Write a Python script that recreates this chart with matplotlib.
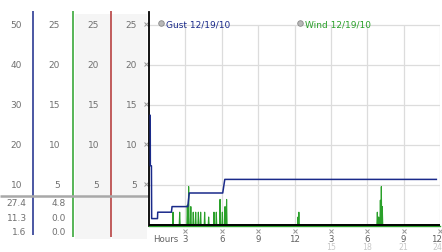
import matplotlib
matplotlib.use('Agg')
import matplotlib.pyplot as plt
from matplotlib.transforms import blended_transform_factory as blend
from matplotlib.lines import Line2D
from matplotlib.patches import Rectangle

# gust readings (mph, 0-50 scale)
gust_h = [0.10, 0.11, 0.20, 0.22, 0.70, 0.72, 1.85, 1.90, 3.20, 3.32, 6.08, 6.25, 23.7]
gust_v = [27.4, 14.8, 14.8, 1.6, 1.6, 3.2, 3.2, 4.6, 4.6, 8.0, 8.0, 11.4, 11.4]

# wind gusts above zero (mph, 0-25 scale)
wind_h = [1.98, 2.53, 3.16, 3.27, 3.45, 3.65, 3.85, 4.07, 4.26, 4.59, 4.92, 5.36, 5.55,
          5.86, 6.05, 6.27, 6.40, 12.29, 12.36, 18.83, 18.94, 19.08, 19.16, 19.24]
wind_v = [1.6, 1.6, 2.5, 4.8, 2.3, 1.6, 1.6, 1.6, 1.6, 1.6, 1.0, 1.6, 1.6,
          3.2, 1.6, 2.3, 3.2, 1.0, 1.6, 1.6, 1.0, 3.1, 4.8, 2.3]

gust_scale = [50, 40, 30, 20, 10]
wind_scale = [25, 20, 15, 10, 5]
gust_stats = ['27.4', '11.3', '1.6']
wind_stats = ['4.8', '0.0', '0.0']

hour_ticks = [3, 6, 9, 12, 15, 18, 21, 24]
hour_top = ['3', '6', '9', '12', '3', '6', '9', '12']
hour_bot = ['', '', '', '', '15', '18', '21', '24']

NAVY = '#1a2a8a'
GREEN = '#2aa02a'
RED = '#b03030'
GRAY = '#707070'
FS = 6.5

W, H = 442, 253
fig = plt.figure(figsize=(W / 100, H / 100), dpi=100)

# overlay in pixel coords for the left scale panel
ov = fig.add_axes([0, 0, 1, 1], zorder=0)
ov.set_xlim(0, W)
ov.set_ylim(H, 0)
ov.axis('off')

ax = fig.add_axes([149 / W, (H - 227) / H, 291 / W, 214 / H], zorder=2)
ax.set_xlim(0, 24)
ax.set_ylim(-0.125, 26.625)
ax2 = ax.twinx()
ax2.set_ylim(-0.25, 53.25)
for s in ax2.spines.values():
    s.set_visible(False)
ax2.set_yticks([])

for s in ['top', 'right']:
    ax.spines[s].set_visible(False)
ax.spines['left'].set_color('black')
ax.spines['left'].set_linewidth(1.3)
ax.spines['bottom'].set_color(GREEN)
ax.spines['bottom'].set_linewidth(1.0)
ax.set_xticks([])
ax.set_yticks([])

# grid
for v in wind_scale:
    ax.axhline(v, color='#dcdcdc', lw=0.9, zorder=0)
ax.vlines(hour_ticks, 0, 25, color='#dcdcdc', lw=0.9, zorder=0)

# wind series: zero baseline with spikes
wt, wv = [0.0], [0.0]
for h, v in zip(wind_h, wind_v):
    wt += [h - 0.04, h, h + 0.04]
    wv += [0, v, 0]
wt.append(23.9)
wv.append(0)
ax.plot(wt, wv, color=GREEN, lw=0.8, zorder=2)
ax.axhline(0, color='black', lw=1.4, zorder=3)

ax2.plot(gust_h, gust_v, color=NAVY, lw=1.1, zorder=4)

# legend
handles = [Line2D([], [], marker='o', ls='', mfc='#b8b8b8', mec='#888888', ms=4, mew=0.6),
           Line2D([], [], marker='o', ls='', mfc='#b8b8b8', mec='#888888', ms=4, mew=0.6)]
leg = ax.legend(handles, ['Gust 12/19/10', 'Wind 12/19/10'], ncol=2, frameon=False,
                loc='center left', bbox_to_anchor=(0.027, 0.945), fontsize=FS,
                handletextpad=0.05, columnspacing=7.2, handlelength=1.0,
                borderaxespad=0, borderpad=0)
leg.get_texts()[0].set_color(NAVY)
leg.get_texts()[1].set_color(GREEN)

# x labels
tb = blend(ax.transData, ax.transAxes)
ax.plot(hour_ticks, [-0.022] * len(hour_ticks), ls='', marker='x', ms=2.2, mew=0.7,
        color='#999999', transform=tb, clip_on=False)
for h, a, b in zip(hour_ticks, hour_top, hour_bot):
    ha = 'right' if h == 24 else 'center'
    hx = 24.15 if h == 24 else h
    ax.text(hx, -0.057, a, transform=tb, ha=ha, va='center', fontsize=6.2, color='#606060')
    if b:
        ax.text(hx, -0.094, b, transform=tb, ha=ha, va='center', fontsize=5.6, color='#c8c8c8')
ax.text(1.35, -0.057, 'Hours', transform=tb, ha='center', va='center', fontsize=6.2, color='#606060')

# left panel
ov.add_patch(Rectangle((75, 15), 36, 225, color='#f5f5f5', lw=0))
ov.add_patch(Rectangle((112, 15), 35, 225, color='#f5f5f5', lw=0))
ov.vlines([33], 12, 236, color=NAVY, lw=1.1)
ov.vlines([72.5], 12, 238, color=GREEN, lw=1.1)
ov.vlines([111], 12, 238, color=RED, lw=1.1)
ov.hlines(197, 0, 148, color='#a8a8a8', lw=1.8)

t_g = blend(ov.transData, ax2.transData)
t_w = blend(ov.transData, ax.transData)
for v in gust_scale:
    fig.text(22, v + 0.25, str(v), transform=t_g, ha='right', va='center', fontsize=FS, color=GRAY)
for v in wind_scale:
    for x in [60, 99, 137]:
        fig.text(x, v + 0.12, str(v), transform=t_w, ha='right', va='center', fontsize=FS, color=GRAY)
for v in wind_scale:
    ov.plot([145.5], [v + 0.12], ls='', marker='x', ms=2.2, mew=0.7, color='#999999',
            transform=t_w, clip_on=False)

for y, g, w in zip([204, 218.7, 232.3], gust_stats, wind_stats):
    ov.text(26.7, y, g, ha='right', va='center', fontsize=FS, color=GRAY)
    ov.text(66, y, w, ha='right', va='center', fontsize=FS, color=GRAY)

fig.savefig('out.png', dpi=100)
